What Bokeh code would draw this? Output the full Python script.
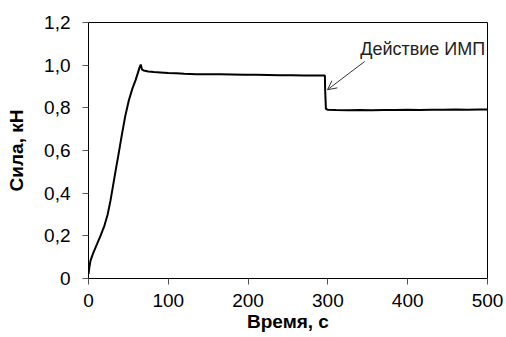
from bokeh.plotting import figure
from bokeh.models import FixedTicker, Arrow, OpenHead, Label, Range1d
from bokeh.embed import file_html
from bokeh.resources import INLINE

# Data
time_s = [0, 1, 2.5, 6, 10.9, 15, 20, 24, 27.6, 31, 34, 38, 42, 46, 50.5, 55, 59, 62, 64, 65.5, 67, 69,
          75, 82, 90, 100, 110, 120, 135, 150, 165, 180, 195, 210, 225, 240, 255, 270, 285, 295,
          296.2, 296.6, 297.5, 300, 310, 325, 340, 355, 370, 385, 400, 415, 430, 445, 460, 475, 490, 500]
force_kn = [0.02, 0.05, 0.084, 0.12, 0.163, 0.20, 0.248, 0.30, 0.366, 0.44, 0.506, 0.59, 0.678, 0.76, 0.834, 0.89, 0.93, 0.965, 0.99, 1.003, 0.98, 0.975,
            0.970, 0.968, 0.966, 0.963, 0.962, 0.960, 0.958, 0.957, 0.957, 0.956, 0.955, 0.955, 0.954, 0.953, 0.953, 0.952, 0.952, 0.952,
            0.952, 0.88, 0.795, 0.791, 0.790, 0.789, 0.790, 0.789, 0.790, 0.790, 0.791, 0.790, 0.791, 0.791, 0.792, 0.791, 0.792, 0.792]

x_ticks = [0, 100, 200, 300, 400, 500]
y_ticks = [0, 0.2, 0.4, 0.6, 0.8, 1.0, 1.2]
y_tick_labels = ["0", "0,2", "0,4", "0,6", "0,8", "1,0", "1,2"]

annotation_text = "Действие ИМП"
arrow_start = (346, 1.017)
arrow_end = (299.5, 0.885)
label_pos = (340.5, 1.077)

p = figure(width=506, height=337, output_backend="svg", toolbar_location=None,
           x_range=Range1d(0, 500), y_range=Range1d(0, 1.2),
           min_border_left=88, min_border_right=19, min_border_top=22, min_border_bottom=59)

p.line(time_s, force_kn, line_color="black", line_width=2)

p.xgrid.visible = False
p.ygrid.visible = False
p.outline_line_color = "black"
p.outline_line_width = 1
p.background_fill_color = "white"
p.border_fill_color = "white"

font = "Liberation Sans"
for ax in (p.xaxis, p.yaxis):
    ax.axis_line_color = "black"
    ax.major_tick_line_color = "#555555"
    ax.minor_tick_line_color = None
    ax.major_tick_in = 0
    ax.major_tick_out = 6
    ax.major_label_text_font = font
    ax.major_label_text_font_size = "19px"
    ax.major_label_text_color = "black"
    ax.axis_label_text_font = font
    ax.axis_label_text_font_size = "19px"
    ax.axis_label_text_font_style = "bold"
    ax.axis_label_text_color = "black"

p.xaxis.ticker = FixedTicker(ticks=x_ticks)
p.yaxis.ticker = FixedTicker(ticks=y_ticks)
p.yaxis.major_label_overrides = {t: l for t, l in zip(y_ticks, y_tick_labels)}
p.xaxis.axis_label = "Время, с"
p.yaxis.axis_label = "Сила, кН"
p.xaxis.axis_label_standoff = 1
p.yaxis.axis_label_standoff = 14
p.xaxis.major_label_standoff = 9
p.yaxis.major_label_standoff = 12

p.add_layout(Arrow(end=OpenHead(size=9, line_color="#333333", line_width=1),
                   x_start=arrow_start[0], y_start=arrow_start[1],
                   x_end=arrow_end[0], y_end=arrow_end[1],
                   line_color="#333333", line_width=1))
p.add_layout(Label(x=label_pos[0], y=label_pos[1], text=annotation_text,
                   text_font=font, text_font_size="18px", text_color="#222222",
                   text_align="left", text_baseline="middle"))

open("out.html", "w").write(file_html(p, INLINE))
